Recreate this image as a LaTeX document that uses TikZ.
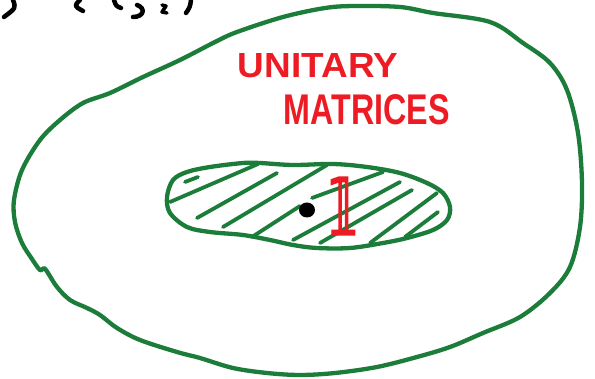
\documentclass[tikz,border=0pt]{standalone}
\usepackage{fontspec}
\usepackage{graphicx}
\setmainfont{Liberation Sans}
\newfontfamily\symfont[FakeBold=3]{DejaVu Sans}
\definecolor{pengreen}{RGB}{27,125,57}
\definecolor{penred}{RGB}{237,28,36}
\tikzset{
  greenpen/.style={draw=pengreen, line width=4.3pt, line cap=round, line join=round},
  hatchpen/.style={draw=pengreen, line width=3.8pt, line cap=round},
  blackpen/.style={draw=black, line width=4.5pt, line cap=round, line join=round},
  redlabel/.style={text=penred, inner sep=0pt, font=\bfseries},
}
\begin{document}
\begin{tikzpicture}[x=1pt, y=-1pt]
\useasboundingbox (0,0) rectangle (595,379);
% outer blob
\draw[greenpen] plot[smooth cycle, tension=0.55] coordinates {
(355,6) (400,7) (433,13) (490,22) (523,43) (550,63) (567,90) (578,133) (582,183)
(580,227) (570,267) (550,293) (520,317) (483,333) (450,347) (417,357) (377,367)
(335,373) (300,375) (267,373) (233,368) (200,358) (177,352) (140,340) (117,328)
(100,315) (87,308) (70,300) (57,287) (48,273) (44,268) (40,270) (32,259) (22,243) (15,222)
(14,200) (22,170) (40,140) (60,120) (83,103) (110,93) (143,77) (180,60) (215,42)
(237,32) (283,17) (325,8)};
% inner blob
\draw[greenpen] plot[smooth cycle, tension=0.55] coordinates {
(167,197) (173,180) (187,172) (210,167) (243,163) (260,163) (293,165) (333,164)
(367,167) (400,173) (427,183) (443,193) (450,207) (447,220) (433,230) (407,238)
(383,243) (350,248) (317,248) (293,245) (270,240) (243,235) (210,232) (187,227)
(170,213)};
% hatching
\coordinate (h1a) at (185,182); \coordinate (h1b) at (198,177);
\coordinate (h2a) at (170,202); \coordinate (h2b) at (258,164);
\coordinate (h3a) at (197,218); \coordinate (h3b) at (277,173);
\coordinate (h4a) at (223,227); \coordinate (h4b) at (327,165);
\coordinate (h5a) at (252,237); \coordinate (h5b) at (300,206);
\coordinate (h5c) at (312,198); \coordinate (h5d) at (383,172);
\coordinate (h6a) at (293,240); \coordinate (h6b) at (400,182);
\coordinate (h7a) at (320,243); \coordinate (h7b) at (412,190);
\coordinate (h8a) at (370,243); \coordinate (h8b) at (437,193);
\coordinate (h9a) at (405,237); \coordinate (h9b) at (438,212);
\foreach \a/\b in {h1a/h1b,h2a/h2b,h3a/h3b,h4a/h4b,h5a/h5b,h5c/h5d,h6a/h6b,h7a/h7b,h8a/h8b,h9a/h9b}
  \draw[hatchpen] (\a) -- (\b);
% dot
\fill[black] (307,210) ellipse [x radius=8pt, y radius=7.5pt];
% identity
\node[redlabel, font=\symfont] (one) at (343,206) {\resizebox{28pt}{57pt}{𝟙}};
% labels
\node[redlabel] (unitary) at (318,66) {\resizebox{160pt}{24pt}{UNITARY}};
\node[redlabel] (matrices) at (367,110) {\resizebox{166pt}{30pt}{MATRICES}};
% cropped handwriting at top
\draw[blackpen] (13,0) .. controls (16,8) .. (4,17);
\draw[blackpen] (80,0) .. controls (74,6) .. (83,11);
\draw[blackpen] (114,0) .. controls (116,6) .. (121,8);
\draw[blackpen] (137,5) .. controls (146,8) and (144,17) .. (133,17);
\draw[blackpen, line width=3.5pt] (162,5) -- (166,6) -- (162,12) -- (167,13);
\draw[blackpen] (191,0) .. controls (190,7) .. (186,13);
\end{tikzpicture}
\end{document}
